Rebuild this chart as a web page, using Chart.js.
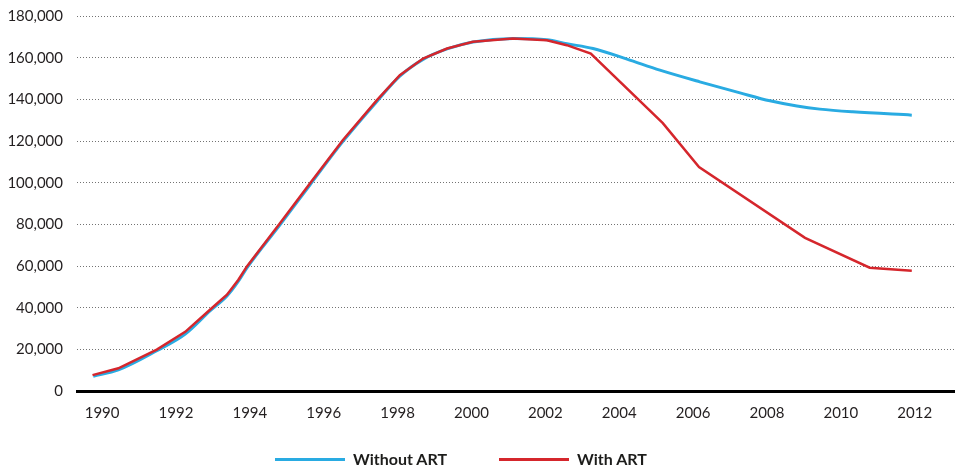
<!DOCTYPE html>
<html>
<head>
<meta charset="utf-8">
<script src="https://cdn.jsdelivr.net/npm/chart.js@4/dist/chart.umd.min.js"></script>
<style>
  body { margin: 0; background: #fff; }
  #wrap { position: relative; width: 955px; height: 468px; }
  #legend { position: absolute; left: 0; top: 449px; width: 955px; height: 20px; font-family: Lato, "Open Sans", sans-serif; font-weight: bold; font-size: 16px; color: #1d1d1b; }
  #legend .sw { position: absolute; top: 9px; width: 70px; height: 3px; }
  #legend .tx { position: absolute; top: 0; line-height: 20px; }
</style>
</head>
<body>
<div id="wrap">
  <canvas id="chart"></canvas>
  <div id="legend"></div>
</div>
<script>
const xTickYears = [1990, 1992, 1994, 1996, 1998, 2000, 2002, 2004, 2006, 2008, 2010, 2012];

const withoutYears = [1989.76, 1990.44, 1991.48, 1992.25, 1992.92, 1993.38, 1993.69, 1993.92, 1994.82, 1995.63, 1996.52, 1997.44, 1998.06, 1998.69, 1999.34, 2000.04, 2001.12, 2002.04, 2002.58, 2003.29, 2004.21, 2005.10, 2006.18, 2007.27, 2008.08, 2008.81, 2009.43, 2010.32, 2011.92];
const withoutValues = [7100, 10100, 19300, 27300, 38400, 45600, 52700, 59100, 79900, 99000, 119800, 139000, 151100, 159200, 164200, 167500, 169200, 168600, 166700, 164400, 159300, 154000, 148400, 143100, 139300, 136800, 135300, 134000, 132400];

const withYears = [1989.74, 1990.44, 1991.48, 1992.25, 1992.92, 1993.38, 1993.69, 1993.92, 1994.82, 1995.63, 1996.52, 1997.44, 1998.06, 1998.69, 1999.34, 2000.04, 2001.12, 2002.04, 2002.58, 2003.23, 2005.18, 2006.16, 2009.03, 2010.78, 2011.92];
const withValues = [7600, 10900, 19900, 28400, 39000, 46200, 53400, 59800, 80600, 99700, 120500, 139600, 151600, 159600, 164400, 167600, 169200, 168400, 166000, 162000, 128600, 107500, 73500, 59200, 57700];

const seriesNames = ['Without ART', 'With ART'];
const seriesColors = ['#29abe2', '#d5262c'];

const toPoints = (xs, ys) => xs.map((x, i) => ({ x: x, y: ys[i] }));

new Chart(document.getElementById('chart'), {
  type: 'line',
  data: {
    datasets: [
      {
        label: seriesNames[0],
        data: toPoints(withoutYears, withoutValues),
        borderColor: seriesColors[0],
        borderWidth: 3,
        pointRadius: 0,
        cubicInterpolationMode: 'monotone',
        order: 1
      },
      {
        label: seriesNames[1],
        data: toPoints(withYears, withValues),
        borderColor: seriesColors[1],
        borderWidth: 2.5,
        pointRadius: 0,
        tension: 0,
        order: 0
      }
    ]
  },
  options: {
    responsive: true,
    maintainAspectRatio: false,
    animation: false,
    layout: { padding: { top: 16, right: 0, bottom: 0, left: 0 } },
    plugins: {
      legend: { display: false },
      tooltip: { enabled: false }
    },
    scales: {
      x: {
        type: 'linear',
        min: 1989.32,
        max: 2013.09,
        afterBuildTicks: scale => { scale.ticks = xTickYears.map(v => ({ value: v })); },
        afterFit: scale => { scale.height = 77; scale.paddingLeft = 0; scale.paddingRight = 0; },
        grid: { display: false, drawTicks: false },
        border: { display: true, color: '#000', width: 3 },
        ticks: {
          padding: 13,
          autoSkip: false,
          maxRotation: 0,
          color: '#231f20',
          font: { family: 'Lato', size: 15 },
          callback: v => String(v)
        }
      },
      y: {
        min: 0,
        max: 180000,
        afterFit: scale => { scale.width = 77; scale.paddingTop = 0; scale.paddingBottom = 0; },
        grid: { color: 'rgba(0,0,0,0.55)', lineWidth: 1, drawTicks: false },
        border: { display: false, dash: [1, 2] },
        ticks: {
          stepSize: 20000,
          padding: 14,
          color: '#231f20',
          font: { family: 'Lato', size: 15 },
          callback: v => v.toLocaleString('en-US')
        }
      }
    }
  }
});

// legend below the chart
const legendLeft = [275, 499];
let legendHtml = '';
seriesNames.forEach((name, i) => {
  legendHtml += `<div class="sw" style="left:${legendLeft[i]}px;background:${seriesColors[i]}"></div>
    <div class="tx" style="left:${legendLeft[i] + 78}px">${name}</div>`;
});
document.getElementById('legend').innerHTML = legendHtml;
</script>
</body>
</html>
